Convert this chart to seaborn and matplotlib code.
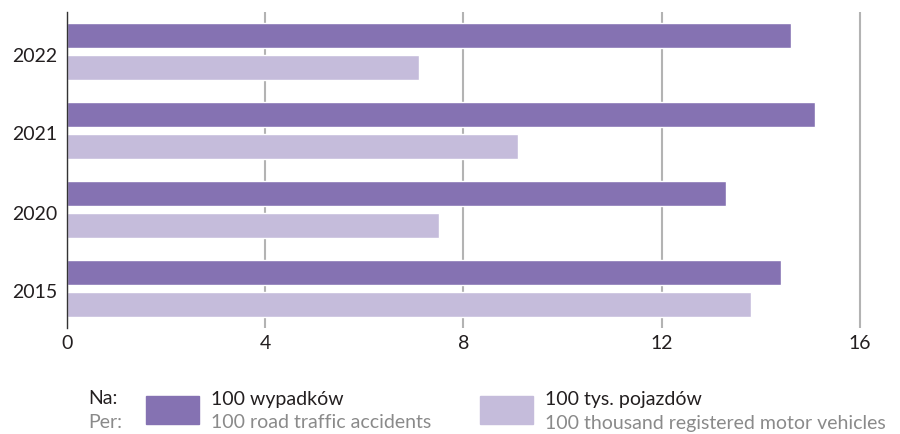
import matplotlib
matplotlib.use("Agg")
import matplotlib.pyplot as plt
from matplotlib.patches import Rectangle
from matplotlib.transforms import ScaledTranslation
import seaborn as sns
import pandas as pd

years = ["2022", "2021", "2020", "2015"]
per_accidents = [14.6, 15.1, 13.3, 14.4]
per_vehicles = [7.1, 9.1, 7.5, 13.8]
series_names = ["100 wypadków", "100 tys. pojazdów"]
x_ticks = [0, 4, 8, 12, 16]

dark = "#8572b2"
light = "#c5bcdb"
text_dark = "#231f20"
text_gray = "#8a8a8a"

df = pd.DataFrame({
    "year": years * 2,
    "value": per_accidents + per_vehicles,
    "series": [series_names[0]] * len(years) + [series_names[1]] * len(years),
})

sns.set_theme(style="white")
plt.rcParams["font.family"] = ["Lato", "DejaVu Sans"]

fig = plt.figure(figsize=(9, 4.34), dpi=100)
ax = fig.add_axes([67 / 900, 1 - 328 / 434, 802.9 / 900, 316 / 434])

sns.barplot(data=df, y="year", x="value", hue="series", order=years,
            hue_order=series_names, palette=[dark, light], orient="h",
            gap=0.2, width=0.8, legend=False, saturation=1, ax=ax)

ax.set_xlim(0, 16.2)
ax.set_ylim(len(years) - 0.5, -0.5)
ax.set_xticks(x_ticks)
ax.set_xticklabels([str(t) for t in x_ticks])
ax.set_xlabel("")
ax.set_ylabel("")
ax.grid(axis="x", color="#b3b3b3", linewidth=1.5)
ax.set_axisbelow(True)
for s in ["top", "right", "bottom"]:
    ax.spines[s].set_visible(False)
ax.spines["left"].set_color("#333333")
ax.spines["left"].set_linewidth(1.0)
ax.tick_params(axis="both", length=0, labelsize=14, colors=text_dark)
ax.tick_params(axis="x", pad=5)
ax.tick_params(axis="y", pad=7)

# Year labels sit slightly below the group centre
shift = ScaledTranslation(0, -3 / 100, fig.dpi_scale_trans)
for lbl in ax.get_yticklabels():
    lbl.set_transform(lbl.get_transform() + shift)

# Legend block below the chart
def fx(px):
    return px / 900

def fy(py):
    return 1 - py / 434

fs = 14
fig.text(fx(88), fy(399), "Na:", color=text_dark, fontsize=fs, va="center")
fig.text(fx(88), fy(423), "Per:", color=text_gray, fontsize=fs, va="center")

fig.patches.append(Rectangle((fx(146), fy(424)), fx(53), 28 / 434,
                             transform=fig.transFigure, color=dark))
fig.text(fx(211), fy(399), series_names[0], color=text_dark, fontsize=fs, va="center")
fig.text(fx(211), fy(423), "100 road traffic accidents", color=text_gray, fontsize=fs, va="center")

fig.patches.append(Rectangle((fx(480), fy(424)), fx(53), 28 / 434,
                             transform=fig.transFigure, color=light))
fig.text(fx(545), fy(399), series_names[1], color=text_dark, fontsize=fs, va="center")
fig.text(fx(545), fy(423), "100 thousand registered motor vehicles", color=text_gray, fontsize=fs, va="center")

fig.savefig("out.png", dpi=100)
